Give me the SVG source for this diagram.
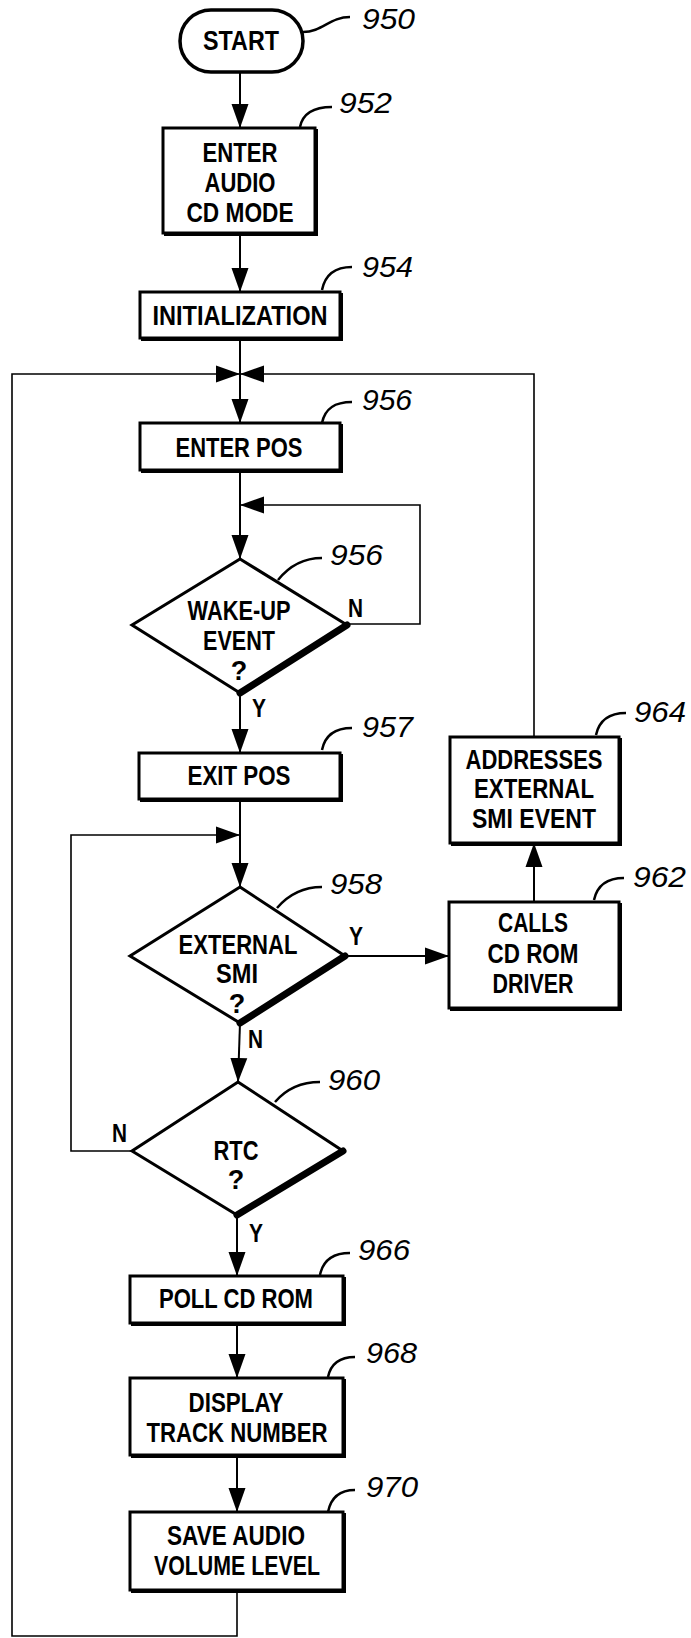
<svg xmlns="http://www.w3.org/2000/svg" width="691" height="1638" viewBox="0 0 691 1638">
<style>
.bx{fill:#fff;stroke:#000;stroke-width:3}
.sh{fill:none;stroke:#000;stroke-width:3}
.dm{fill:#fff;stroke:#000;stroke-width:3;stroke-linejoin:miter}
.dsh{fill:none;stroke:#000;stroke-width:7;stroke-linecap:round}
.t{font-family:"Liberation Sans",Arial,sans-serif;font-weight:bold;font-size:27px;text-anchor:middle;fill:#000}
.yn{font-family:"Liberation Sans",Arial,sans-serif;font-weight:bold;font-size:26px;fill:#000}
.ref{font-family:"Liberation Sans",Arial,sans-serif;font-style:italic;font-size:30px;fill:#000}
.ld{fill:none;stroke:#000;stroke-width:2.5}
.c{fill:none;stroke:#000;stroke-width:2}
.cl{fill:none;stroke:#000;stroke-width:1.6}
</style>
<defs>
<marker id="ah" markerUnits="userSpaceOnUse" markerWidth="26" markerHeight="18" refX="24" refY="9" orient="auto">
<path d="M0,0.5 L24,9 L0,17.5 z" fill="#000"/>
</marker>
</defs>

<g id="connectors">
<path class="c" d="M240,72 V128" marker-end="url(#ah)"/>
<path class="c" d="M240,233 V292" marker-end="url(#ah)"/>
<path class="c" d="M240,338 V423" marker-end="url(#ah)"/>
<path class="cl" d="M237,1590 V1636 H12 V374 H240" marker-end="url(#ah)"/>
<path class="cl" d="M534,737 V374 H240" marker-end="url(#ah)"/>
<path class="c" d="M240,470 V559" marker-end="url(#ah)"/>
<path class="cl" d="M347,624 H420 V505 H240" marker-end="url(#ah)"/>
<path class="c" d="M240,693 V753" marker-end="url(#ah)"/>
<path class="c" d="M240,799 V887" marker-end="url(#ah)"/>
<path class="cl" d="M132,1151 H71 V835 H240" marker-end="url(#ah)"/>
<path class="c" d="M345,956 H449" marker-end="url(#ah)"/>
<path class="c" d="M534,902 V843" marker-end="url(#ah)"/>
<path class="c" d="M240,1023 L238,1082" marker-end="url(#ah)"/>
<path class="c" d="M237,1215 V1276" marker-end="url(#ah)"/>
<path class="c" d="M237,1323 V1378" marker-end="url(#ah)"/>
<path class="c" d="M237,1455 V1512" marker-end="url(#ah)"/>
</g>

<g id="n950">
<rect class="bx" x="180" y="10" width="123" height="62" rx="31" ry="31" style="stroke-width:3.5"/>
<text class="t" x="241" y="50" textLength="76" lengthAdjust="spacingAndGlyphs">START</text>
<path class="ld" d="M303,32 C322,32 330,17 350,17"/>
<text class="ref" x="362" y="29" textLength="53" lengthAdjust="spacingAndGlyphs">950</text>
</g>

<g id="n952">
<rect class="bx" x="163" y="128" width="152" height="105"/>
<path class="sh" d="M316.5,129 V234.5 H164"/>
<text class="t" x="240" y="162" textLength="75" lengthAdjust="spacingAndGlyphs">ENTER</text>
<text class="t" x="240" y="192" textLength="71" lengthAdjust="spacingAndGlyphs">AUDIO</text>
<text class="t" x="240" y="222" textLength="107" lengthAdjust="spacingAndGlyphs">CD MODE</text>
<path class="ld" d="M300,127 C303,112 315,107 332,107"/>
<text class="ref" x="339" y="113" textLength="53" lengthAdjust="spacingAndGlyphs">952</text>
</g>

<g id="n954">
<rect class="bx" x="140" y="292" width="200" height="46"/>
<path class="sh" d="M341.5,293 V339.5 H141"/>
<text class="t" x="240" y="325" textLength="175" lengthAdjust="spacingAndGlyphs">INITIALIZATION</text>
<path class="ld" d="M322,290 C325,275 335,267 352,267"/>
<text class="ref" x="362" y="277" textLength="51" lengthAdjust="spacingAndGlyphs">954</text>
</g>

<g id="n956a">
<rect class="bx" x="140" y="423" width="200" height="47"/>
<path class="sh" d="M341.5,424 V471.5 H141"/>
<text class="t" x="239" y="457" textLength="127" lengthAdjust="spacingAndGlyphs">ENTER POS</text>
<path class="ld" d="M322,423 C325,408 335,402 352,402"/>
<text class="ref" x="362" y="410" textLength="50" lengthAdjust="spacingAndGlyphs">956</text>
</g>

<g id="n956b">
<polygon class="dm" points="240,559 347,625 240,693 132,625"/>
<path class="dsh" d="M347,625 L240,693"/>
<text class="t" x="239" y="620" textLength="103" lengthAdjust="spacingAndGlyphs">WAKE-UP</text>
<text class="t" x="239" y="650" textLength="72" lengthAdjust="spacingAndGlyphs">EVENT</text>
<text class="t" x="239" y="680">?</text>
<path class="ld" d="M278,580 C290,565 305,558 322,558"/>
<text class="ref" x="330" y="565" textLength="53" lengthAdjust="spacingAndGlyphs">956</text>
<text class="yn" x="348" y="617" textLength="15" lengthAdjust="spacingAndGlyphs">N</text>
<text class="yn" x="252" y="717" textLength="14" lengthAdjust="spacingAndGlyphs">Y</text>
</g>

<g id="n957">
<rect class="bx" x="139" y="753" width="201" height="46"/>
<path class="sh" d="M341.5,754 V800.5 H140"/>
<text class="t" x="239" y="785" textLength="103" lengthAdjust="spacingAndGlyphs">EXIT POS</text>
<path class="ld" d="M322,750 C325,735 335,728 352,728"/>
<text class="ref" x="362" y="737" textLength="51" lengthAdjust="spacingAndGlyphs">957</text>
</g>

<g id="n958">
<polygon class="dm" points="240,887 345,956 240,1023 130,956"/>
<path class="dsh" d="M345,956 L240,1023"/>
<text class="t" x="238" y="954" textLength="119" lengthAdjust="spacingAndGlyphs">EXTERNAL</text>
<text class="t" x="237" y="983" textLength="42" lengthAdjust="spacingAndGlyphs">SMI</text>
<text class="t" x="237" y="1013">?</text>
<path class="ld" d="M277,908 C289,894 305,887 322,887"/>
<text class="ref" x="330" y="894" textLength="52" lengthAdjust="spacingAndGlyphs">958</text>
<text class="yn" x="349" y="945" textLength="14" lengthAdjust="spacingAndGlyphs">Y</text>
<text class="yn" x="248" y="1048" textLength="15" lengthAdjust="spacingAndGlyphs">N</text>
</g>

<g id="n962">
<rect class="bx" x="449" y="902" width="170" height="106"/>
<path class="sh" d="M620.5,903 V1009.5 H450"/>
<text class="t" x="533" y="932" textLength="70" lengthAdjust="spacingAndGlyphs">CALLS</text>
<text class="t" x="533" y="963" textLength="91" lengthAdjust="spacingAndGlyphs">CD ROM</text>
<text class="t" x="533" y="993" textLength="81" lengthAdjust="spacingAndGlyphs">DRIVER</text>
<path class="ld" d="M594,900 C597,886 607,878 624,878"/>
<text class="ref" x="633" y="887" textLength="53" lengthAdjust="spacingAndGlyphs">962</text>
</g>

<g id="n964">
<rect class="bx" x="450" y="737" width="169" height="106"/>
<path class="sh" d="M620.5,738 V844.5 H451"/>
<text class="t" x="534" y="769" textLength="137" lengthAdjust="spacingAndGlyphs">ADDRESSES</text>
<text class="t" x="534" y="798" textLength="120" lengthAdjust="spacingAndGlyphs">EXTERNAL</text>
<text class="t" x="534" y="828" textLength="124" lengthAdjust="spacingAndGlyphs">SMI EVENT</text>
<path class="ld" d="M596,735 C599,721 609,713 626,713"/>
<text class="ref" x="634" y="722" textLength="52" lengthAdjust="spacingAndGlyphs">964</text>
</g>

<g id="n960">
<polygon class="dm" points="238,1082 343,1151 237,1215 132,1151"/>
<path class="dsh" d="M343,1151 L237,1215"/>
<text class="t" x="236" y="1160" textLength="45" lengthAdjust="spacingAndGlyphs">RTC</text>
<text class="t" x="236" y="1189">?</text>
<path class="ld" d="M275,1102 C287,1088 303,1082 320,1082"/>
<text class="ref" x="328" y="1090" textLength="52" lengthAdjust="spacingAndGlyphs">960</text>
<text class="yn" x="112" y="1142" textLength="15" lengthAdjust="spacingAndGlyphs">N</text>
<text class="yn" x="249" y="1242" textLength="14" lengthAdjust="spacingAndGlyphs">Y</text>
</g>

<g id="n966">
<rect class="bx" x="130" y="1276" width="213" height="47"/>
<path class="sh" d="M344.5,1277 V1324.5 H131"/>
<text class="t" x="236" y="1308" textLength="154" lengthAdjust="spacingAndGlyphs">POLL CD ROM</text>
<path class="ld" d="M320,1275 C323,1260 333,1253 350,1253"/>
<text class="ref" x="358" y="1260" textLength="52" lengthAdjust="spacingAndGlyphs">966</text>
</g>

<g id="n968">
<rect class="bx" x="130" y="1378" width="213" height="77"/>
<path class="sh" d="M344.5,1379 V1456.5 H131"/>
<text class="t" x="236" y="1412" textLength="95" lengthAdjust="spacingAndGlyphs">DISPLAY</text>
<text class="t" x="237" y="1442" textLength="181" lengthAdjust="spacingAndGlyphs">TRACK NUMBER</text>
<path class="ld" d="M328,1377 C331,1363 341,1357 355,1357"/>
<text class="ref" x="366" y="1363" textLength="51" lengthAdjust="spacingAndGlyphs">968</text>
</g>

<g id="n970">
<rect class="bx" x="130" y="1512" width="213" height="78"/>
<path class="sh" d="M344.5,1513 V1591.5 H131"/>
<text class="t" x="236" y="1545" textLength="138" lengthAdjust="spacingAndGlyphs">SAVE AUDIO</text>
<text class="t" x="237" y="1575" textLength="166" lengthAdjust="spacingAndGlyphs">VOLUME LEVEL</text>
<path class="ld" d="M328,1512 C331,1497 341,1490 355,1490"/>
<text class="ref" x="366" y="1497" textLength="52" lengthAdjust="spacingAndGlyphs">970</text>
</g>
</svg>
